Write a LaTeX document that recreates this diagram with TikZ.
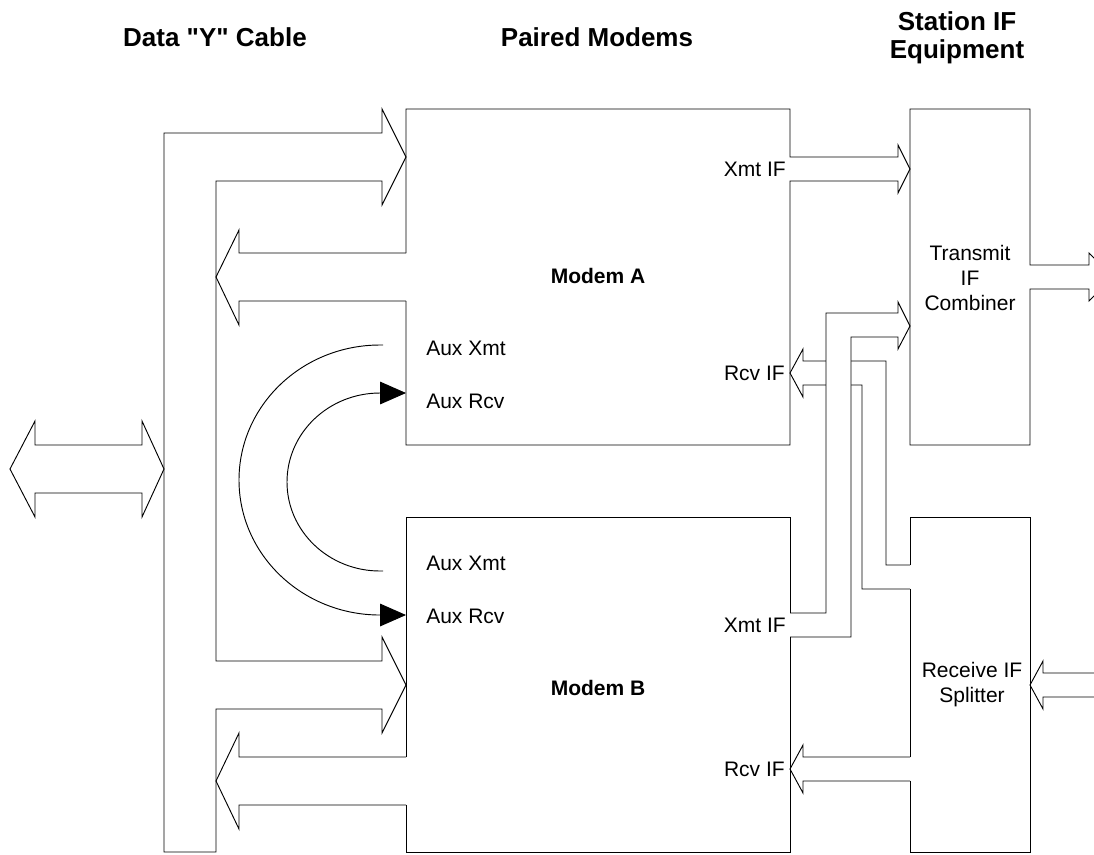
\documentclass[tikz,border=0pt]{standalone}
\usepackage{fontspec}
\setmainfont[Ligatures=TeXOff]{Liberation Sans}
\usetikzlibrary{arrows.meta}

\begin{document}
\begin{tikzpicture}[
    x=0.75pt, y=-0.75pt,
    line/.style={line width=0.7pt},
    lbl/.style={font=\fontsize{15.75}{18.75}\selectfont, inner sep=0pt, align=center},
    modemlbl/.style={font=\bfseries\fontsize{15.75}{18.75}\selectfont, inner sep=0pt},
    title/.style={font=\bfseries\fontsize{19.5}{21}\selectfont, inner sep=0pt, align=center},
    aux/.style={line width=0.7pt, -{Triangle[length=19.5pt,width=17pt]}}
]
\useasboundingbox (0,0) rectangle (1094,854);
\clip (0,0) rectangle (1094,854);

% column headings
\node[title] (ycable)  at (215,37) {Data "Y" Cable};
\node[title] (paired)  at (597,37) {Paired Modems};
\node[title] (station) at (957,38) {Station IF\\Equipment};

% data "Y" cable
\draw[line] (164,133) -- (382,133) -- (382,109) -- (406,157) -- (382,205) -- (382,181)
    -- (216,181) -- (216,661) -- (382,661) -- (382,637) -- (406,685) -- (382,733)
    -- (382,709) -- (216,709) -- (216,852) -- (164,852) -- cycle;
\draw[line] (406,253) -- (239,253) -- (239,230) -- (216,277) -- (239,325) -- (239,301) -- (406,301);
\draw[line] (406,757) -- (239,757) -- (239,733) -- (216,781) -- (239,829) -- (239,805) -- (406,805);
\draw[line] (35,445) -- (142,445) -- (142,421) -- (164,469) -- (142,517) -- (142,493)
    -- (35,493) -- (35,517) -- (10,469) -- (35,421) -- cycle;

% IF cabling, modem B Xmt IF crosses over modem A Rcv IF
\draw[line] (910,565) -- (886,565) -- (886,361) -- (803,361) -- (803,349) -- (790,373)
    -- (803,397) -- (803,385) -- (862,385) -- (862,589) -- (910,589);
\draw[line, fill=white] (790,613) -- (826,613) -- (826,313) -- (898,313) -- (898,302)
    -- (910,326) -- (898,349) -- (898,337) -- (851,337) -- (851,637) -- (790,637);
\draw[line] (910,757) -- (803,757) -- (803,745) -- (790,769) -- (803,793) -- (803,781) -- (910,781);

% modem A
\draw[line] (406,253) -- (406,109) -- (790,109) -- (790,157) -- (898,157) -- (898,145)
    -- (910,169) -- (898,193) -- (898,181) -- (790,181) -- (790,445) -- (406,445) -- (406,301);
\node[modemlbl] (modemA) at (598,276) {Modem A};
\node[lbl, anchor=west] (auxXmtA) at (426,348) {Aux Xmt};
\node[lbl, anchor=west] (auxRcvA) at (426,401) {Aux Rcv};
\node[lbl, anchor=east] (xmtA) at (786,169) {Xmt IF};
\node[lbl, anchor=east] (rcvA) at (785,373) {Rcv IF};

% modem B
\draw[line] (406,805) -- (406,852) -- (790,852) -- (790,637);
\draw[line] (790,613) -- (790,517) -- (406,517) -- (406,757);
\node[modemlbl] (modemB) at (598,688) {Modem B};
\node[lbl, anchor=west] (auxXmtB) at (426,563) {Aux Xmt};
\node[lbl, anchor=west] (auxRcvB) at (426,616) {Aux Rcv};
\node[lbl, anchor=east] (xmtB) at (786,625) {Xmt IF};
\node[lbl, anchor=east] (rcvB) at (785,769) {Rcv IF};

% aux loop-back
\draw[aux] (383,345) -- (380,345) arc[start angle=270, end angle=90, x radius=141, y radius=135] -- (406,615);
\draw[aux] (383,571) -- (380,571) arc[start angle=90, end angle=270, x radius=93, y radius=89] -- (406,393);

% transmit IF combiner
\draw[line] (910,109) -- (1030,109) -- (1030,265) -- (1089,265) -- (1089,253) -- (1113,277)
    -- (1089,301) -- (1089,289) -- (1030,289) -- (1030,445) -- (910,445) -- cycle;
\node[lbl] (combiner) at (970,278) {Transmit\\IF\\Combiner};

% receive IF splitter
\draw[line] (910,565) -- (910,517) -- (1030,517) -- (1030,852) -- (910,852) -- (910,781);
\draw[line] (910,757) -- (910,589);
\draw[line] (1100,673) -- (1043,673) -- (1043,661) -- (1030,685) -- (1043,709) -- (1043,697) -- (1100,697);
\node[lbl] (splitter) at (972,685) {Receive IF\\Splitter};
\end{tikzpicture}
\end{document}
